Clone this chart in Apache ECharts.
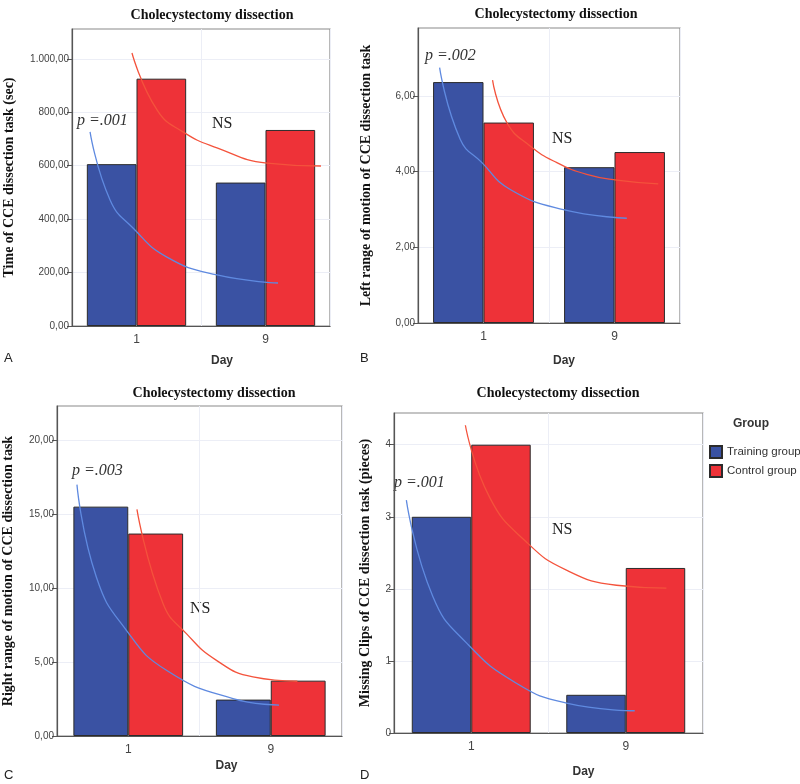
<!DOCTYPE html>
<html><head><meta charset="utf-8">
<script src="https://cdn.jsdelivr.net/npm/echarts@6/dist/echarts.min.js"></script>
<style>html,body{margin:0;padding:0;background:#fff}#c{width:800px;height:784px}</style>
</head><body><div id="c"></div>
<script>
// ---- data ----
const days = ['1', '9'];
const groups = ['Training group', 'Control group'];

const timeTraining = [606, 537];
const timeControl = [926, 734];
const leftTraining = [6.37, 4.12];
const leftControl = [5.30, 4.52];
const rightTraining = [15.5, 2.46];
const rightControl = [13.68, 3.74];
const clipsTraining = [3.0, 0.53];
const clipsControl = [4.0, 2.29];

const ticksTime = [0, 200, 400, 600, 800, 1000];
const ticksLeft = [0, 2, 4, 6];
const ticksRight = [0, 5, 10, 15, 20];
const ticksClips = [0, 1, 2, 3, 4];

// annotation arcs (x: 0 = day 1, 1 = day 9; y in the panel's units)
const arcTimeTraining = [[-0.36,727],[-0.205,472],[-0.027,367],[0.236,258],[0.624,191],[1.097,161]];
const arcTimeControl = [[-0.035,1022],[0.159,809],[0.36,727],[0.624,667],[1.012,610],[1.43,599]];
const arcLeftTraining = [[-0.335,6.75],[-0.178,4.86],[-0.012,4.24],[0.204,3.53],[0.61,3.0],[1.094,2.77]];
const arcLeftControl = [[0.069,6.42],[0.178,5.30],[0.356,4.68],[0.56,4.24],[0.788,3.93],[1.017,3.78],[1.334,3.68]];
const arcRightTraining = [[-0.36,16.99],[-0.224,10.74],[-0.013,7.14],[0.268,4.44],[0.735,2.53],[1.058,2.09]];
const arcRightControl = [[0.061,15.32],[0.244,8.95],[0.408,6.92],[0.619,5.11],[0.875,3.99],[1.187,3.70]];
const arcClipsTraining = [[-0.42,3.23],[-0.248,1.89],[-0.031,1.25],[0.292,0.69],[0.616,0.415],[1.058,0.309]];
const arcClipsControl = [[-0.038,4.27],[0.119,3.27],[0.357,2.65],[0.616,2.26],[0.94,2.05],[1.263,2.01]];

// ---- styling / layout ----
const BLUE = '#3a52a3', RED = '#ee3238';
const ARC_BLUE = '#5f8ae0', ARC_RED = '#f4533c';
const SERIF = '"Liberation Serif","Times New Roman",serif';
const SANS = '"Liberation Sans",Arial,sans-serif';

const panels = [
  {grid:{left:72, top:29, width:258, height:297}, max:1112, ticks:ticksTime, dec:true,
   yName:'Time of CCE dissection task (sec)', nameGap:56, dayGap:29, dayShift:21,
   tr:timeTraining, co:timeControl, arcT:arcTimeTraining, arcC:arcTimeControl},
  {grid:{left:418, top:28, width:262, height:295}, max:7.8, ticks:ticksLeft, dec:true,
   yName:'Left range of motion of CCE dissection task', nameGap:45, dayGap:32, dayShift:15,
   tr:leftTraining, co:leftControl, arcT:arcLeftTraining, arcC:arcLeftControl},
  {grid:{left:57, top:406, width:285, height:330}, max:22.3, ticks:ticksRight, dec:true,
   yName:'Right range of motion of CCE dissection task', nameGap:42, dayGap:24, dayShift:27,
   tr:rightTraining, co:rightControl, arcT:arcRightTraining, arcC:arcRightControl},
  {grid:{left:394, top:413, width:309, height:320}, max:4.44, ticks:ticksClips, dec:false,
   yName:'Missing Clips of CCE dissection task (pieces)', nameGap:22, dayGap:33, dayShift:35,
   tr:clipsTraining, co:clipsControl, arcT:arcClipsTraining, arcC:arcClipsControl}
];

function fmt(v, dec) {
  if (!dec) return String(v);
  const s = v.toFixed(2).split('.');
  const int = s[0].replace(/\B(?=(\d{3})+(?!\d))/g, '.');
  return int + ',' + s[1];
}

const grid = [], xAxis = [], yAxis = [], series = [];
panels.forEach((p, i) => {
  grid.push(Object.assign({show:true, borderColor:'#8a8a8a', borderWidth:1.2, backgroundColor:'transparent'}, p.grid));
  xAxis.push({
    type:'category', gridIndex:i, data:days,
    name:'Day', nameLocation:'middle', nameGap:p.dayGap,
    nameTextStyle:{fontFamily:SANS, fontWeight:'bold', fontSize:12, color:'#333', padding:[0,0,0,2*p.dayShift]},
    axisLine:{onZero:false, lineStyle:{color:'#555', width:1.2}},
    axisTick:{alignWithLabel:true, length:5, lineStyle:{color:'#555'}},
    axisLabel:{fontFamily:SANS, fontSize:12, color:'#444', margin:8},
    splitLine:{show:false}
  });
  yAxis.push({
    type:'value', gridIndex:i, min:0, max:p.max,
    name:p.yName, nameLocation:'middle', nameGap:p.nameGap, nameRotate:90,
    nameTextStyle:{fontFamily:SERIF, fontWeight:'bold', fontSize:14, color:'#111'},
    axisLine:{show:true, onZero:false, lineStyle:{color:'#555', width:1.2}},
    axisTick:{show:true, length:5, customValues:p.ticks, lineStyle:{color:'#555'}},
    axisLabel:{customValues:p.ticks, fontFamily:SANS, fontSize:10, color:'#444', margin:3,
               formatter:(v)=>fmt(v, p.dec)},
    splitLine:{show:true, lineStyle:{color:'#eceef6', width:1}}
  });
});
// hidden value x axes for arcs + vertical gridlines at category centres
panels.forEach((p, i) => {
  xAxis.push({
    type:'value', gridIndex:i, min:-0.5, max:1.5, interval:1, position:'bottom',
    axisLine:{show:false, onZero:false}, axisTick:{show:false}, axisLabel:{show:false},
    splitLine:{show:true, lineStyle:{color:'#eceef6', width:1}}
  });
});
panels.forEach((p, i) => {
  series.push({type:'bar', name:groups[0], xAxisIndex:i, yAxisIndex:i, data:p.tr,
    barGap:'0%', barCategoryGap:'23%',
    itemStyle:{color:BLUE, borderColor:'#2b2b2b', borderWidth:1}, z:2});
  series.push({type:'bar', name:groups[1], xAxisIndex:i, yAxisIndex:i, data:p.co,
    barGap:'0%', barCategoryGap:'23%',
    itemStyle:{color:RED, borderColor:'#2b2b2b', borderWidth:1}, z:2});
});
panels.forEach((p, i) => {
  series.push({type:'line', xAxisIndex:4+i, yAxisIndex:i, data:p.arcT, smooth:0.5,
    symbol:'none', lineStyle:{color:ARC_BLUE, width:1.3}, z:5, silent:true});
  series.push({type:'line', xAxisIndex:4+i, yAxisIndex:i, data:p.arcC, smooth:0.5,
    symbol:'none', lineStyle:{color:ARC_RED, width:1.3}, z:5, silent:true});
});

const titleStyle = {fontFamily:SERIF, fontWeight:'bold', fontSize:14, color:'#111'};
const title = [
  {text:'Cholecystectomy dissection', left:207, top:3, textAlign:'center', textStyle:titleStyle},
  {text:'Cholecystectomy dissection', left:551, top:2, textAlign:'center', textStyle:titleStyle},
  {text:'Cholecystectomy dissection', left:209, top:381, textAlign:'center', textStyle:titleStyle},
  {text:'Cholecystectomy dissection', left:553, top:381, textAlign:'center', textStyle:titleStyle}
];

function txt(x, y, s, style) {
  return {type:'text', left:x, top:y, style:Object.assign({text:s}, style)};
}
const pStyle = {font:'italic 16px "Liberation Serif","Times New Roman",serif', fill:'#333'};
const nsStyle = {font:'16px "Liberation Serif","Times New Roman",serif', fill:'#222'};
const letterStyle = {font:'13px "Liberation Sans",Arial,sans-serif', fill:'#222'};
const graphic = [
  txt(77, 113, 'p =.001', pStyle),
  txt(425, 48, 'p =.002', pStyle),
  txt(72, 463, 'p =.003', pStyle),
  txt(394, 475, 'p =.001', pStyle),
  txt(212, 116, 'NS', nsStyle),
  txt(552, 131, 'NS', nsStyle),
  txt(190, 601, 'NS', nsStyle),
  txt(552, 522, 'NS', nsStyle),
  txt(4, 352, 'A', letterStyle),
  txt(360, 352, 'B', letterStyle),
  txt(4, 769, 'C', letterStyle),
  txt(360, 769, 'D', letterStyle),
  txt(733, 418, 'Group', {font:'bold 12px "Liberation Sans",Arial,sans-serif', fill:'#333'})
];

const chart = echarts.init(document.getElementById('c'), null, {renderer:'canvas'});
chart.setOption({
  animation:false,
  backgroundColor:'#fff',
  title, grid, xAxis, yAxis, series, graphic,
  legend:{data:groups, orient:'vertical', left:704, top:440, itemWidth:12, itemHeight:12, itemGap:5,
    icon:'rect', textStyle:{fontFamily:SANS, fontSize:11.5, color:'#333'}}
});
</script></body></html>
